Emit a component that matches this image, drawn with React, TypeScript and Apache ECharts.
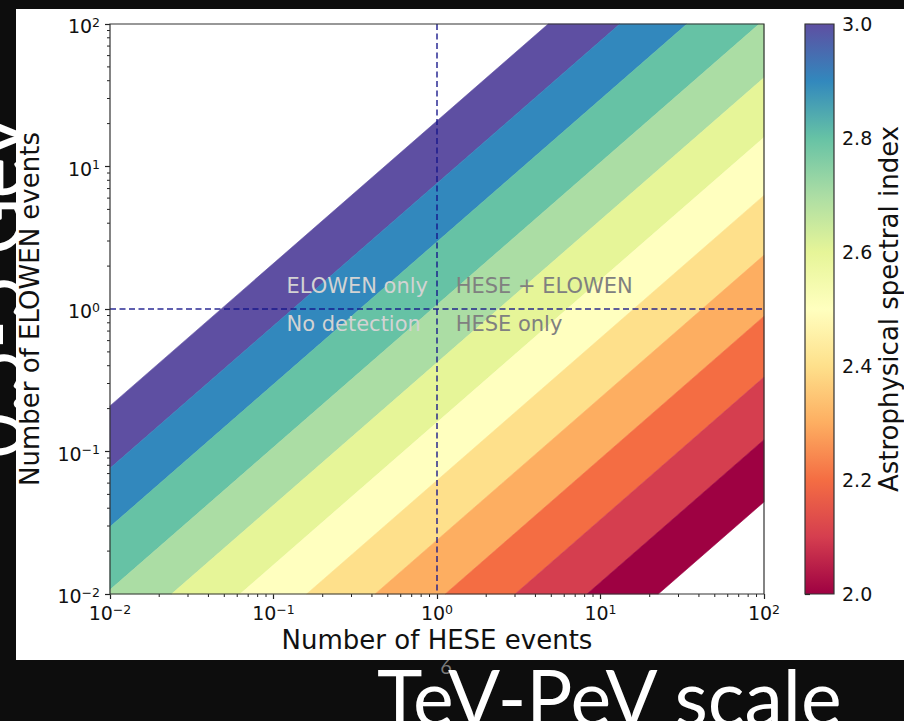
import React, { useEffect, useRef } from "react";
import * as echarts from "echarts";

// ---- data ----
const axisMin = 0.01;
const axisMax = 100;
const minorMantissas = [2, 3, 4, 5, 6, 7, 8, 9];
const minorDecades = [0.01, 0.1, 1, 10];
// band boundaries expressed as ELOWEN / HESE ratio, from softest (top) to hardest (bottom)
const bandRatios = [20.9, 7.62, 2.96, 1.07, 0.42, 0.16, 0.0627, 0.0239, 0.0089, 0.00333, 0.00121, 0.000443];
const bandColors = ["#5e4fa2", "#3288bd", "#66c2a5", "#abdda4", "#e6f598", "#ffffbf", "#fee08b", "#fdae61", "#f46d43", "#d53e4f", "#9e0142"];
const colorbarColors = ["#9e0142", "#d53e4f", "#f46d43", "#fdae61", "#fee08b", "#ffffbf", "#e6f598", "#abdda4", "#66c2a5", "#3288bd", "#5e4fa2"];
const colorbarMin = 2.0;
const colorbarMax = 3.0;
const colorbarStep = 0.2;
const thresholdHESE = 1;
const thresholdELOWEN = 1;
const regionLabels = ["ELOWEN only", "HESE + ELOWEN", "No detection", "HESE only"];
const regionX = [0.12, 1.3, 0.12, 1.3];
const regionY = [1.45, 1.45, 0.78, 0.78];
const regionColors = ["#d3d3d3", "#808080", "#d3d3d3", "#808080"];
const xAxisName = "Number of HESE events";
const yAxisName = "Number of ELOWEN events";
const colorbarName = "Astrophysical spectral index";
const slideTitle = "TeV-PeV scale";
const sideTitle = "0.5-5 GeV";
const slideNumber = "6";

const FONT = "DejaVu Sans";
const SLIDE_FONT = "Lato";

function intersect(a: number[], b: number[], ax: number, v: number) {
  const t = (v - a[ax]) / (b[ax] - a[ax]);
  return [a[0] + t * (b[0] - a[0]), a[1] + t * (b[1] - a[1])];
}

function clipPoly(pts: number[][], x0: number, y0: number, x1: number, y1: number) {
  const planes: [number, number, boolean][] = [
    [0, x0, true],
    [0, x1, false],
    [1, y0, true],
    [1, y1, false],
  ];
  let out = pts;
  for (const [ax, b, ge] of planes) {
    const inp = out;
    out = [];
    if (!inp.length) break;
    for (let i = 0; i < inp.length; i++) {
      const cur = inp[i];
      const prev = inp[(i + inp.length - 1) % inp.length];
      const inC = ge ? cur[ax] >= b : cur[ax] <= b;
      const inP = ge ? prev[ax] >= b : prev[ax] <= b;
      if (inC) {
        if (!inP) out.push(intersect(prev, cur, ax, b));
        out.push(cur);
      } else if (inP) {
        out.push(intersect(prev, cur, ax, b));
      }
    }
  }
  return out;
}

function supLabel(v: number) {
  const e = Math.round(Math.log10(v));
  const s = e < 0 ? "\u2212" + -e : String(e);
  return "{b|10}{s|" + s + "}";
}

const supRich = {
  b: { fontSize: 19, lineHeight: 20, fontFamily: FONT, color: "#111", verticalAlign: "bottom" },
  s: { fontSize: 12.5, lineHeight: 12, fontFamily: FONT, color: "#111", verticalAlign: "top" },
};

export default function App() {
  const ref = useRef<HTMLDivElement>(null);

  useEffect(() => {
    if (!ref.current) return;
    const chart = echarts.init(ref.current, null, { renderer: "svg" });

    const bandData = bandColors.map((_, i) => [bandRatios[i], bandRatios[i + 1]]);
    const minorData: number[][] = [];
    minorDecades.forEach((d) => minorMantissas.forEach((m) => minorData.push([d * m, d * m])));

    const tickStyle = { show: true, inside: false, length: 5, lineStyle: { color: "#222", width: 1.2 } };

    const option: any = {
      animation: false,
      backgroundColor: "#0d0d0d",
      graphic: [
        {
          type: "text",
          z: -20,
          x: 32,
          y: 458,
          rotation: Math.PI / 2,
          style: {
            text: sideTitle,
            fill: "#ffffff",
            font: `normal 78px ${SLIDE_FONT}`,
            textAlign: "left",
            textVerticalAlign: "bottom",
          },
        },
        {
          type: "text",
          z: -20,
          x: 446,
          y: 676,
          style: {
            text: slideNumber,
            fill: "#7a7a7a",
            font: `normal 20px ${SLIDE_FONT}`,
            textAlign: "center",
            textVerticalAlign: "bottom",
          },
        },
        {
          type: "rect",
          z: -10,
          shape: { x: 16, y: 9, width: 888, height: 651 },
          style: { fill: "#ffffff" },
        },
        {
          type: "text",
          z: -5,
          x: 377,
          y: 734,
          style: {
            text: slideTitle,
            fill: "#ffffff",
            font: `normal 77px ${SLIDE_FONT}`,
            textAlign: "left",
            textVerticalAlign: "bottom",
          },
        },
      ],
      grid: [
        { left: 110, top: 24, width: 654, height: 570 },
        { left: 805, top: 24, width: 29, height: 570 },
      ],
      xAxis: [
        {
          type: "log",
          logBase: 10,
          gridIndex: 0,
          min: axisMin,
          max: axisMax,
          splitLine: { show: false },
          axisLine: { show: false },
          axisTick: tickStyle,
          axisLabel: { formatter: supLabel, rich: supRich, margin: 8.5 },
          name: xAxisName,
          nameLocation: "middle",
          nameGap: 32,
          nameTextStyle: { fontSize: 26, fontFamily: FONT, color: "#111", verticalAlign: "top" },
        },
        {
          type: "value",
          gridIndex: 1,
          min: 0,
          max: 1,
          show: false,
        },
      ],
      yAxis: [
        {
          type: "log",
          logBase: 10,
          gridIndex: 0,
          min: axisMin,
          max: axisMax,
          splitLine: { show: false },
          axisLine: { show: false },
          axisTick: tickStyle,
          axisLabel: { formatter: supLabel, rich: supRich, margin: 10, padding: [3.5, 0, 0, 0] },
          name: yAxisName,
          nameLocation: "middle",
          nameRotate: 90,
          nameGap: 67,
          nameTextStyle: { fontSize: 26, fontFamily: FONT, color: "#111" },
        },
        {
          type: "value",
          gridIndex: 1,
          position: "right",
          min: colorbarMin,
          max: colorbarMax,
          interval: colorbarStep,
          splitLine: { show: false },
          axisLine: { show: false },
          axisTick: tickStyle,
          axisLabel: {
            formatter: (v: number) => v.toFixed(1),
            fontSize: 19,
            fontFamily: FONT,
            color: "#111",
            margin: 8,
          },
          name: colorbarName,
          nameLocation: "middle",
          nameRotate: 90,
          nameGap: 41,
          nameTextStyle: { fontSize: 26, fontFamily: FONT, color: "#111" },
        },
      ],
      series: [
        {
          type: "custom",
          name: "bands",
          xAxisIndex: 0,
          yAxisIndex: 0,
          z: 2,
          silent: true,
          data: bandData,
          renderItem: (params: any, api: any) => {
            const i = params.dataIndex;
            const hi = api.value(0);
            const lo = api.value(1);
            const cs = params.coordSys;
            const pts = [
              api.coord([axisMin, hi * axisMin]),
              api.coord([axisMax, hi * axisMax]),
              api.coord([axisMax, lo * axisMax]),
              api.coord([axisMin, lo * axisMin]),
            ];
            const clipped = clipPoly(pts, cs.x, cs.y, cs.x + cs.width, cs.y + cs.height);
            if (clipped.length < 3) return null;
            return {
              type: "polygon",
              shape: { points: clipped },
              style: { fill: bandColors[i], stroke: bandColors[i], lineWidth: 0.6 },
            };
          },
        },
        {
          type: "custom",
          name: "thresholds",
          xAxisIndex: 0,
          yAxisIndex: 0,
          z: 4,
          silent: true,
          data: [[thresholdHESE, thresholdELOWEN]],
          renderItem: (params: any, api: any) => {
            const cs = params.coordSys;
            const p = api.coord([api.value(0), api.value(1)]);
            const ls = { stroke: "#14148a", lineWidth: 1.5, lineDash: [6, 3.5], opacity: 0.9 };
            return {
              type: "group",
              children: [
                { type: "line", shape: { x1: p[0], y1: cs.y, x2: p[0], y2: cs.y + cs.height }, style: ls },
                { type: "line", shape: { x1: cs.x, y1: p[1], x2: cs.x + cs.width, y2: p[1] }, style: ls },
              ],
            };
          },
        },
        {
          type: "custom",
          name: "regions",
          xAxisIndex: 0,
          yAxisIndex: 0,
          z: 5,
          silent: true,
          data: regionLabels.map((_, i) => [regionX[i], regionY[i]]),
          renderItem: (params: any, api: any) => {
            const i = params.dataIndex;
            const p = api.coord([api.value(0), api.value(1)]);
            return {
              type: "text",
              x: p[0],
              y: p[1],
              style: {
                text: regionLabels[i],
                fill: regionColors[i],
                fontSize: 21,
                fontFamily: FONT,
                align: "left",
                verticalAlign: "middle",
              },
            };
          },
        },
        {
          type: "custom",
          name: "minorTicks",
          xAxisIndex: 0,
          yAxisIndex: 0,
          z: 6,
          silent: true,
          clip: false,
          data: minorData,
          renderItem: (params: any, api: any) => {
            const cs = params.coordSys;
            const px = api.coord([api.value(0), axisMin]);
            const py = api.coord([axisMin, api.value(1)]);
            const st = { stroke: "#222", lineWidth: 1 };
            return {
              type: "group",
              children: [
                { type: "line", shape: { x1: px[0], y1: cs.y + cs.height, x2: px[0], y2: cs.y + cs.height + 3 }, style: st },
                { type: "line", shape: { x1: cs.x - 3, y1: py[1], x2: cs.x, y2: py[1] }, style: st },
              ],
            };
          },
        },
        {
          type: "custom",
          name: "frame",
          xAxisIndex: 0,
          yAxisIndex: 0,
          z: 7,
          silent: true,
          clip: false,
          data: [[axisMin, axisMin]],
          renderItem: (params: any) => {
            const cs = params.coordSys;
            return {
              type: "rect",
              shape: { x: cs.x, y: cs.y, width: cs.width, height: cs.height },
              style: { fill: "none", stroke: "#333", lineWidth: 1.2 },
            };
          },
        },
        {
          type: "custom",
          name: "colorbar",
          xAxisIndex: 1,
          yAxisIndex: 1,
          z: 2,
          silent: true,
          clip: false,
          data: [[0, colorbarMin, 1, colorbarMax]],
          renderItem: (params: any, api: any) => {
            const p0 = api.coord([api.value(0), api.value(1)]);
            const p1 = api.coord([api.value(2), api.value(3)]);
            const stops = colorbarColors.map((c, i) => ({ offset: i / (colorbarColors.length - 1), color: c }));
            return {
              type: "group",
              children: [
                {
                  type: "rect",
                  shape: { x: p0[0], y: p1[1], width: p1[0] - p0[0], height: p0[1] - p1[1] },
                  style: { fill: new echarts.graphic.LinearGradient(0, 1, 0, 0, stops) },
                },
                {
                  type: "rect",
                  shape: { x: p0[0], y: p1[1], width: p1[0] - p0[0], height: p0[1] - p1[1] },
                  style: { fill: "none", stroke: "#333", lineWidth: 1.2 },
                },
              ],
            };
          },
        },
      ],
    };

    chart.setOption(option);
    return () => chart.dispose();
  }, []);

  return (
    <div style={{ position: "fixed", left: 0, top: 0, width: 904, height: 721, background: "#0d0d0d", overflow: "hidden" }}>
      <div ref={ref} style={{ width: 904, height: 721 }} />
    </div>
  );
}
